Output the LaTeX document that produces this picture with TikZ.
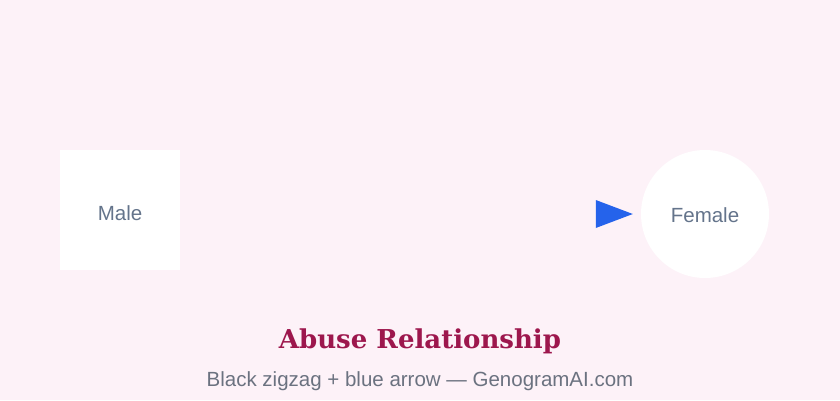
\documentclass[tikz,border=0pt]{standalone}
\usepackage{fontspec}
\setmainfont{Liberation Sans}
\newfontfamily\titlefont{DejaVu Serif}
\definecolor{pagebg}{HTML}{FDF2F8}
\definecolor{labelgray}{HTML}{64748B}
\definecolor{titlered}{HTML}{9D174D}
\definecolor{subgray}{HTML}{6B7280}
\definecolor{arrowblue}{HTML}{2563EB}
\tikzset{
	person/.style={fill=white, draw=none, inner sep=0pt},
	personlabel/.style={text=labelgray, font=\fontsize{20.5}{24}\selectfont, anchor=base},
}
\begin{document}
\begin{tikzpicture}[x=1pt, y=-1pt]
		\fill [pagebg] (0,0) rectangle (840,400);
		\useasboundingbox (0,0) rectangle (840,400);
		% people
		\node [person, rectangle, minimum size=120pt] (male) at (120,210) {};
		\node [person, circle, minimum size=128pt] (female) at (705,214) {};
		\node [personlabel] (malelabel) at (120,220) {Male};
		\node [personlabel] (femalelabel) at (705,222) {Female};
		% abuse arrow head
		\fill [arrowblue] ([xshift=-8pt]female.west) -- ++(-37,-14) -- ++(0,28) -- cycle;
		% caption
		\node [anchor=base] (title) at (420,348) {\titlefont\bfseries\color{titlered}\fontsize{26}{30}\selectfont Abuse Relationship};
		\node [anchor=base] (subtitle) at (420,386) {\color{subgray}\fontsize{20.5}{24}\selectfont Black zigzag + blue arrow — GenogramAI.com};
	\end{tikzpicture}
\end{document}
